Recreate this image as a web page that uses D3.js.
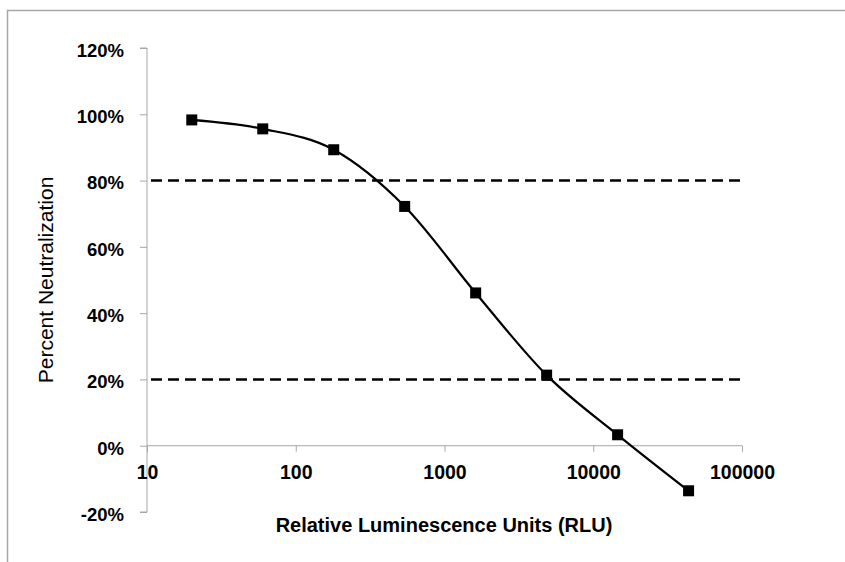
<!DOCTYPE html>
<title>Neutralization curve</title>
<body>
<script src="https://cdn.jsdelivr.net/npm/d3@7"></script>
<style>
  html, body {
    width: 100%;
    height: 100%;
    margin: 0;
    overflow: hidden;
    background: #fff;
  }
</style>
<script>
  // dilution series (RLU) and the measured neutralization
  var rlu = [20, 60, 180, 540, 1620, 4860, 14580, 43740],
    neutral = [0.983, 0.956, 0.893, 0.722, 0.461, 0.213, 0.033, -0.136],
    cutoffs = [0.8, 0.2],
    xTicks = [10, 100, 1000, 10000, 100000],
    yTicks = [-0.2, 0, 0.2, 0.4, 0.6, 0.8, 1.0, 1.2];

  var width = 845, height = 562;

  var svg = d3.select("body").append("svg")
    .attr("width", width)
    .attr("height", height)
    .style("font-family", "'Liberation Sans', Arial, sans-serif");

  // outer frame, only its top and left edges are in view
  svg.append("rect")
    .attr("x", 7.5).attr("y", 10.5)
    .attr("width", 900).attr("height", 600)
    .attr("fill", "none")
    .attr("stroke", "#a6a6a6")
    .attr("stroke-width", 1.5);

  var x = d3.scaleLog().domain([10, 100000]).range([147, 742]),
    y = d3.scaleLinear().domain([-0.2, 1.2]).range([512, 48]);

  // y axis
  var yAxis = svg.append("g")
    .attr("transform", "translate(" + x(10) + ",0)")
    .call(d3.axisLeft(y).tickValues(yTicks).tickSize(7).tickPadding(16)
      .tickFormat(function(d) { return Math.round(d * 100) + "%"; }));
  yAxis.selectAll("path, line").attr("stroke", "#a6a6a6");
  yAxis.select(".domain").attr("d", "M-7," + y(1.2) + "H0V" + y(-0.2) + "H-7");
  yAxis.selectAll("text")
    .attr("fill", "#000")
    .attr("dy", "0.45em")
    .style("font-size", "18.5px")
    .style("font-weight", "bold");

  // x axis sits on the 0% line
  var xAxis = svg.append("g")
    .attr("transform", "translate(0," + y(0) + ")")
    .call(d3.axisBottom(x).tickValues(xTicks).tickSize(6).tickPadding(13)
      .tickFormat(d3.format("d")));
  xAxis.selectAll("path, line").attr("stroke", "#a6a6a6");
  xAxis.select(".domain").attr("d", "M" + x(10) + ",0H" + x(100000));
  xAxis.selectAll("text")
    .attr("fill", "#000")
    .style("font-size", "19.5px")
    .style("font-weight", "bold");

  // 80% / 20% cutoffs
  svg.selectAll(".cutoff")
    .data(cutoffs)
    .enter().append("line")
    .attr("class", "cutoff")
    .attr("x1", x(10) + 4)
    .attr("x2", x(100000) + 1)
    .attr("y1", function(d) { return y(d); })
    .attr("y2", function(d) { return y(d); })
    .attr("stroke", "#000")
    .attr("stroke-width", 2.5)
    .attr("stroke-dasharray", "11,6");

  var pts = rlu.map(function(d, i) { return [d, neutral[i]]; });

  var line = d3.line()
    .x(function(d) { return x(d[0]); })
    .y(function(d) { return y(d[1]); })
    .curve(d3.curveCardinal.tension(0));

  svg.append("path")
    .datum(pts)
    .attr("d", line)
    .attr("fill", "none")
    .attr("stroke", "#000")
    .attr("stroke-width", 2.2);

  var s = 11;
  svg.selectAll(".pt")
    .data(pts)
    .enter().append("rect")
    .attr("class", "pt")
    .attr("x", function(d) { return x(d[0]) - s / 2; })
    .attr("y", function(d) { return y(d[1]) - s / 2; })
    .attr("width", s)
    .attr("height", s)
    .attr("fill", "#000");

  svg.append("text")
    .attr("x", 444)
    .attr("y", 532)
    .attr("text-anchor", "middle")
    .style("font-size", "20px")
    .style("font-weight", "bold")
    .text("Relative Luminescence Units (RLU)");

  svg.append("text")
    .attr("transform", "translate(53,280) rotate(-90)")
    .attr("text-anchor", "middle")
    .style("font-size", "21px")
    .text("Percent Neutralization");
</script>
